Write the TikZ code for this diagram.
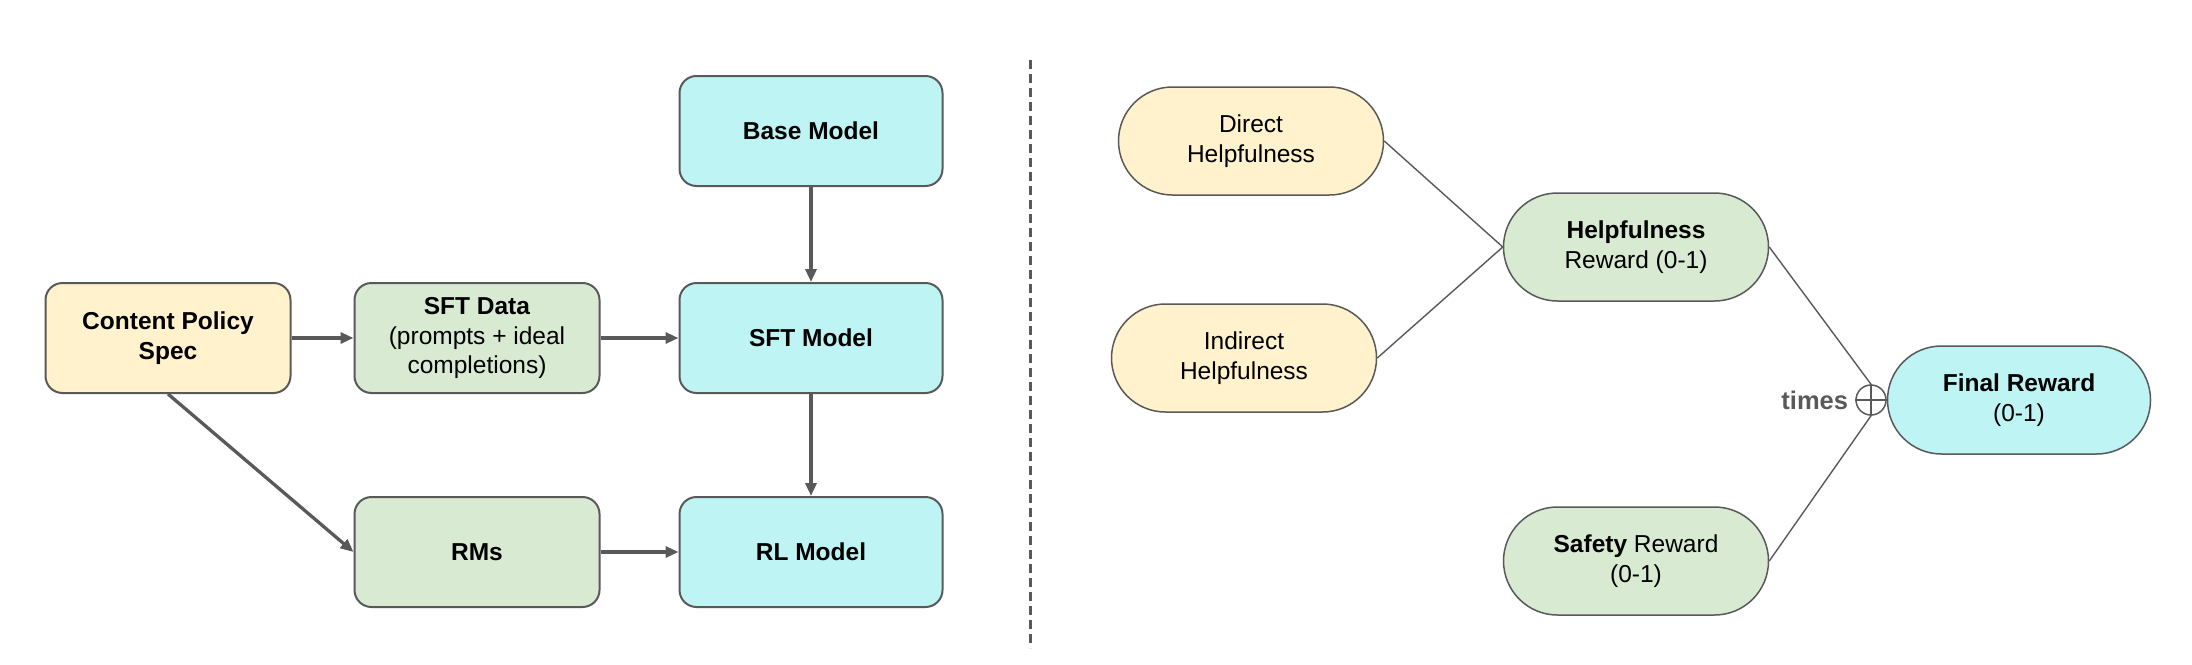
\documentclass[tikz,border=0pt]{standalone}
\usepackage{fontspec}
\setmainfont{Liberation Sans}
\usetikzlibrary{arrows.meta}
\definecolor{lineg}{HTML}{595959}
\definecolor{yel}{HTML}{FFF2CC}
\definecolor{grn}{HTML}{D9EAD3}
\definecolor{cyn}{HTML}{BEF4F4}
\tikzset{
  box/.style={draw=lineg, line width=2pt, rounded corners=17pt, minimum width=245pt, minimum height=110pt, align=center, inner sep=0pt, font=\fontsize{24.5}{29.5}\selectfont},
  wbox/.style={box, minimum width=263pt},
  pill/.style={draw=lineg, line width=1.5pt, rounded corners=54pt, minimum width=265pt, minimum height=108pt, align=center, inner sep=0pt, font=\fontsize{24.5}{29.5}\selectfont},
  arr/.style={draw=lineg, line width=3.3pt, -{Triangle[length=13pt,width=11pt]}},
  link/.style={draw=lineg, line width=1.4pt},
}
\begin{document}
\begin{tikzpicture}[x=1pt,y=-1pt]
\useasboundingbox (0,0) rectangle (2192,664);
% left part
\node[box, fill=yel] (cps) at (168,338) {\textbf{Content Policy}\\\textbf{Spec}};
\node[box, fill=grn] (sftd) at (477,338) {\textbf{SFT Data}\\(prompts + ideal\\completions)};
\node[box, fill=grn] (rms) at (477,552) {\textbf{RMs}};
\node[wbox, fill=cyn] (base) at (811,131) {\textbf{Base Model}};
\node[wbox, fill=cyn] (sftm) at (811,338) {\textbf{SFT Model}};
\node[wbox, fill=cyn] (rl) at (811,552) {\textbf{RL Model}};
\draw[arr] (cps) -- (sftd);
\draw[arr] (sftd) -- (sftm);
\draw[arr] (base) -- (sftm);
\draw[arr] (sftm) -- (rl);
\draw[arr] (rms) -- (rl);
\draw[arr] (cps.south) -- (rms.west);
% divider
\coordinate (dtop) at (1030,60);
\coordinate (dbot) at (1030,648);
\draw[lineg, line width=3pt, dash pattern=on 9pt off 5pt] (dtop) -- (dbot);
% right part
\node[pill, fill=yel] (dir) at (1251,141) {Direct\\Helpfulness};
\node[pill, fill=yel] (ind) at (1244,358) {Indirect\\Helpfulness};
\node[pill, fill=grn] (help) at (1636,247) {\textbf{Helpfulness}\\Reward (0-1)};
\node[pill, fill=grn] (safe) at (1636,561) {\textbf{Safety} Reward\\(0-1)};
\node[pill, fill=cyn, minimum width=263pt] (fin) at (2019,400) {\textbf{Final Reward}\\(0-1)};
\node[draw=lineg, line width=1.5pt, circle, minimum size=30pt, inner sep=0pt, fill=white] (circ) at (1871,400) {};
\draw[lineg, line width=1.5pt] (circ.north) -- (circ.south) (circ.west) -- (circ.east);
\node[anchor=east, text=lineg, font=\fontsize{25.5}{30}\selectfont\bfseries, inner sep=0pt] (times) at ([xshift=-7pt]circ.west) {times};
\draw[link] (dir.east) -- (help.west);
\draw[link] (ind.east) -- (help.west);
\draw[link] (help.east) -- (circ.north);
\draw[link] (safe.east) -- (circ.south);
\end{tikzpicture}
\end{document}
